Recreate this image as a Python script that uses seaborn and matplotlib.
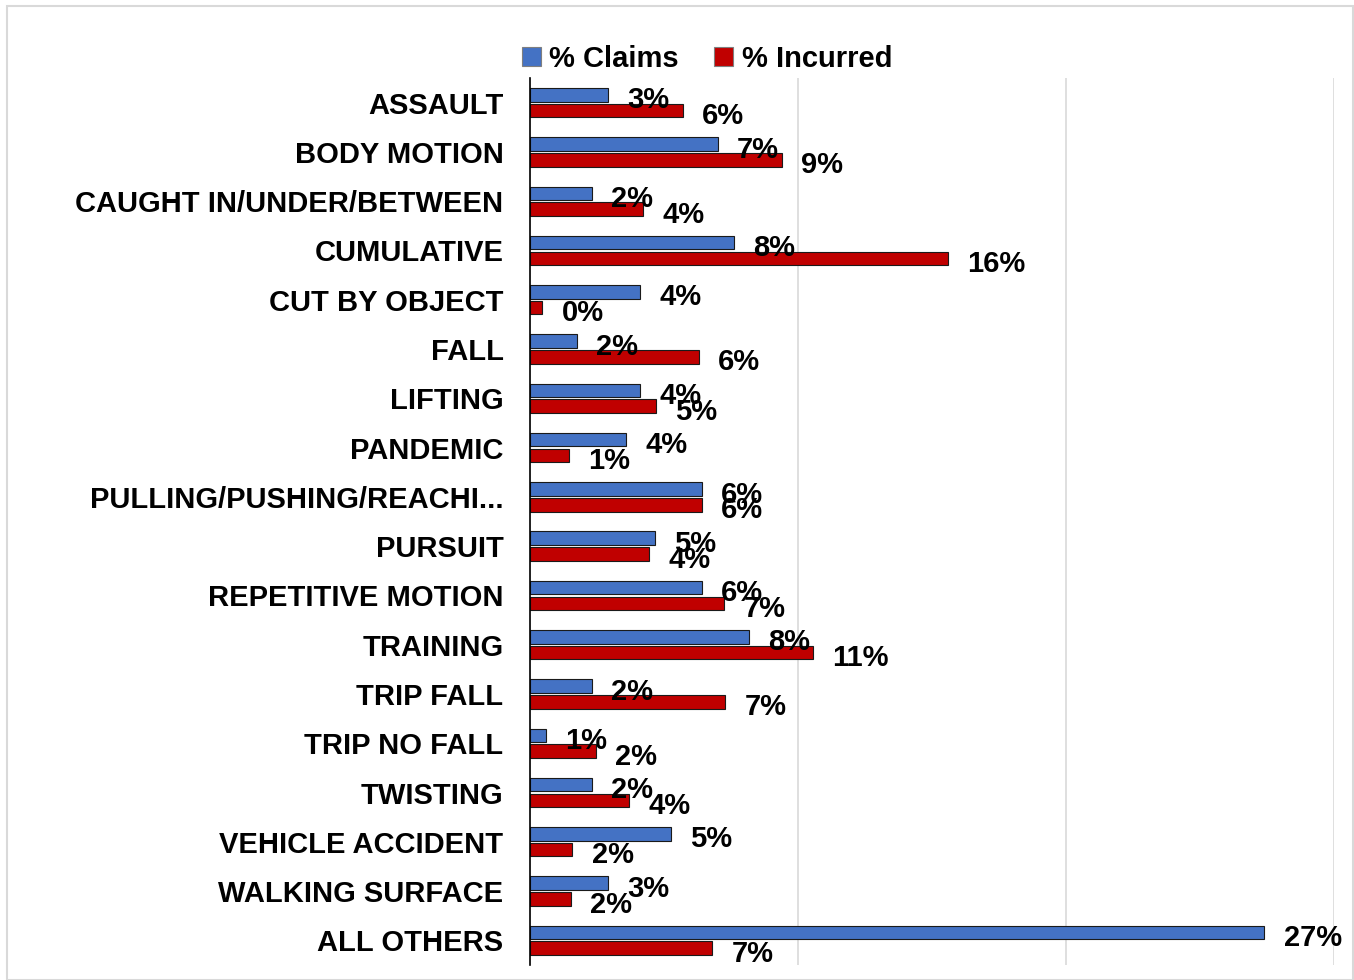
import matplotlib
matplotlib.use("Agg")
import matplotlib.pyplot as plt
import matplotlib.transforms as mtransforms
import seaborn as sns
import pandas as pd
from matplotlib.patches import Rectangle

categories = ["ASSAULT", "BODY MOTION", "CAUGHT IN/UNDER/BETWEEN", "CUMULATIVE",
              "CUT BY OBJECT", "FALL", "LIFTING", "PANDEMIC",
              "PULLING/PUSHING/REACHI...", "PURSUIT", "REPETITIVE MOTION",
              "TRAINING", "TRIP FALL", "TRIP NO FALL", "TWISTING",
              "VEHICLE ACCIDENT", "WALKING SURFACE", "ALL OTHERS"]
claims = [2.9, 7.0, 2.3, 7.6, 4.1, 1.75, 4.1, 3.6, 6.4, 4.66, 6.4, 8.17,
          2.3, 0.6, 2.3, 5.26, 2.9, 27.4]
incurred = [5.7, 9.4, 4.2, 15.6, 0.45, 6.3, 4.7, 1.46, 6.4, 4.44, 7.24, 10.56,
            7.28, 2.46, 3.7, 1.57, 1.53, 6.8]
series = ["% Claims", "% Incurred"]
colors = ["#4472C4", "#C00000"]

df = pd.DataFrame({
    "category": categories * 2,
    "value": claims + incurred,
    "series": [series[0]] * len(categories) + [series[1]] * len(categories),
})

sns.set_theme(style="white")
plt.rcParams["font.family"] = ["Liberation Sans", "DejaVu Sans"]
plt.rcParams["font.weight"] = "bold"

fig = plt.figure(figsize=(13.54, 9.8), dpi=100)
ax = fig.add_axes([530 / 1354, 1 - 965 / 980, (1334 - 530) / 1354, (965 - 78) / 980])

sns.barplot(data=df, y="category", x="value", hue="series", orient="h",
            palette=colors, saturation=1, width=0.64, gap=0.14,
            edgecolor="#1a1a1a", linewidth=0.8, ax=ax, legend=True)

ax.set_xlim(0, 30)
ax.set_ylim(len(categories) - 0.5, -0.5)
ax.set_xticks([0, 10, 20, 30])
ax.set_xticklabels([])
ax.grid(axis="x", color="#D9D9D9", linewidth=1.2)
ax.set_axisbelow(True)
for s in ["top", "right", "bottom"]:
    ax.spines[s].set_visible(False)
ax.spines["left"].set_color("black")
ax.spines["left"].set_linewidth(1.2)
ax.set_xlabel("")
ax.set_ylabel("")
ax.tick_params(axis="y", length=0, pad=19, labelsize=21, labelcolor="black")
ax.tick_params(axis="x", length=0)
shift = mtransforms.ScaledTranslation(0, -3 / 100, fig.dpi_scale_trans)
for t in ax.get_yticklabels():
    t.set_fontweight("bold")
    t.set_va("center")
    t.set_transform(t.get_transform() + shift)

for cont in ax.containers:
    for bar in cont:
        w = bar.get_width()
        y = bar.get_y() + bar.get_height() / 2
        ax.annotate(f"{w:.0f}%", xy=(w, y), xytext=(14, -4),
                    textcoords="offset points", ha="left", va="center",
                    fontsize=21, fontweight="bold", color="black")

leg = ax.legend(loc="lower center", bbox_to_anchor=(0.22, 0.993), ncol=2,
                frameon=False, fontsize=21, handlelength=0.65, handleheight=0.65,
                handletextpad=0.3, columnspacing=1.2, borderaxespad=0)
for h in leg.legend_handles:
    h.set_edgecolor("#7f7f7f")
for t in leg.get_texts():
    t.set_fontweight("bold")
    t.set_color("black")

fig.patches.append(Rectangle((7 / 1354, 0), 1 - 7 / 1354 - 0.0005, 1 - 6 / 980,
                             transform=fig.transFigure, fill=False,
                             edgecolor="#D9D9D9", linewidth=1.5))

fig.savefig("out.png", dpi=100)
